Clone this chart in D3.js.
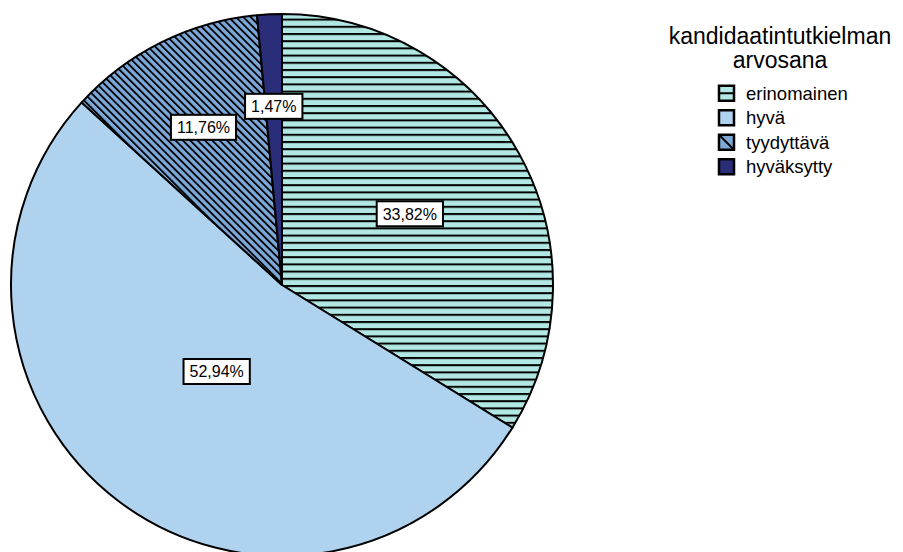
<!DOCTYPE html>
<html>
<head>
<meta charset="utf-8">
<script src="https://cdn.jsdelivr.net/npm/d3@7"></script>
<style>
  body { margin: 0; background: #fff; }
  svg { font-family: Arial, "Liberation Sans", sans-serif; }
</style>
</head>
<body>
<svg width="903" height="552"></svg>
<script>
var categories = ["erinomainen", "hyvä", "tyydyttävä", "hyväksytty"];
var counts = [23, 36, 8, 1];
var percents = ["33,82%", "52,94%", "11,76%", "1,47%"];
var fills = ["#b2e8e4", "#afd2ef", "#7ba8d9", "#2a2e78"];
var patterns = ["horiz", "none", "diag", "none"];
var labelRadius = [0.54, 0.40, 0.65, 0.66]; // where excel put the labels
var legendTitle = ["kandidaatintutkielman", "arvosana"];

var svg = d3.select("svg"),
  width = +svg.attr("width"),
  height = +svg.attr("height");

var cx = 282, cy = 285, radius = 271;

var defs = svg.append("defs");

// horizontal stripes
var ph = defs.append("pattern")
  .attr("id", "horiz")
  .attr("patternUnits", "userSpaceOnUse")
  .attr("width", 8).attr("height", 7.2);
ph.append("rect").attr("width", 8).attr("height", 7.2).attr("fill", fills[0]);
ph.append("rect").attr("y", 0).attr("width", 8).attr("height", 2).attr("fill", "#000");

// diagonal stripes "\"
var pd = defs.append("pattern")
  .attr("id", "diag")
  .attr("patternUnits", "userSpaceOnUse")
  .attr("width", 5.2).attr("height", 10)
  .attr("patternTransform", "rotate(-45)");
pd.append("rect").attr("width", 5.2).attr("height", 10).attr("fill", fills[2]);
pd.append("rect").attr("x", 0).attr("width", 1.8).attr("height", 10).attr("fill", "#000");

function fillFor(i) {
  return patterns[i] === "none" ? fills[i] : "url(#" + patterns[i] + ")";
}

var pie = d3.pie().sort(null).value(d => d);
var arcs = pie(counts);
var arc = d3.arc().innerRadius(0).outerRadius(radius);

var g = svg.append("g").attr("transform", "translate(" + cx + "," + cy + ")");

g.selectAll("path")
  .data(arcs)
  .enter().append("path")
  .attr("d", arc)
  .attr("fill", (d, i) => fillFor(i))
  .attr("stroke", "#000")
  .attr("stroke-width", 2)
  .attr("stroke-linejoin", "round");

// labels
var lab = g.selectAll("g.lab")
  .data(arcs)
  .enter().append("g")
  .attr("class", "lab")
  .attr("transform", (d, i) => {
    var a = d3.arc().innerRadius(radius * labelRadius[i] * 2).outerRadius(0);
    var c = a.centroid(d);
    return "translate(" + c[0] + "," + c[1] + ")";
  });

lab.append("text")
  .attr("text-anchor", "middle")
  .attr("dy", "0.36em")
  .style("font-size", "16px")
  .attr("fill", "#000")
  .text((d, i) => percents[i]);

lab.each(function() {
  var t = d3.select(this).select("text");
  var bb = t.node().getBBox();
  d3.select(this).insert("rect", "text")
    .attr("x", -bb.width / 2 - 6)
    .attr("y", -12.5)
    .attr("width", bb.width + 12)
    .attr("height", 25)
    .attr("fill", "#fff")
    .attr("stroke", "#000")
    .attr("stroke-width", 2);
});

// legend
var leg = svg.append("g");
leg.selectAll("text.title")
  .data(legendTitle)
  .enter().append("text")
  .attr("class", "title")
  .attr("x", 780)
  .attr("y", (d, i) => 44 + i * 24)
  .attr("text-anchor", "middle")
  .style("font-size", "23px")
  .attr("fill", "#000")
  .text(d => d);

var ly = d3.scaleBand().domain(categories).range([81, 179]);

var item = leg.selectAll("g.item")
  .data(categories)
  .enter().append("g")
  .attr("class", "item")
  .attr("transform", d => "translate(719," + ly(d) + ")");

item.append("rect")
  .attr("x", 0).attr("y", ly.bandwidth() / 2 - 7.5)
  .attr("width", 15).attr("height", 15)
  .attr("fill", (d, i) => fills[i])
  .attr("stroke", "#000")
  .attr("stroke-width", 2.5);

item.filter((d, i) => patterns[i] === "horiz").append("line")
  .attr("x1", 0).attr("x2", 15)
  .attr("y1", ly.bandwidth() / 2).attr("y2", ly.bandwidth() / 2)
  .attr("stroke", "#000").attr("stroke-width", 2);

item.filter((d, i) => patterns[i] === "diag").append("line")
  .attr("x1", 1).attr("x2", 14)
  .attr("y1", ly.bandwidth() / 2 - 6.5).attr("y2", ly.bandwidth() / 2 + 6.5)
  .attr("stroke", "#000").attr("stroke-width", 2);

item.append("text")
  .attr("x", 27)
  .attr("y", ly.bandwidth() / 2)
  .attr("dy", "0.36em")
  .style("font-size", "18.5px")
  .attr("fill", "#000")
  .text(d => d);
</script>
</body>
</html>
